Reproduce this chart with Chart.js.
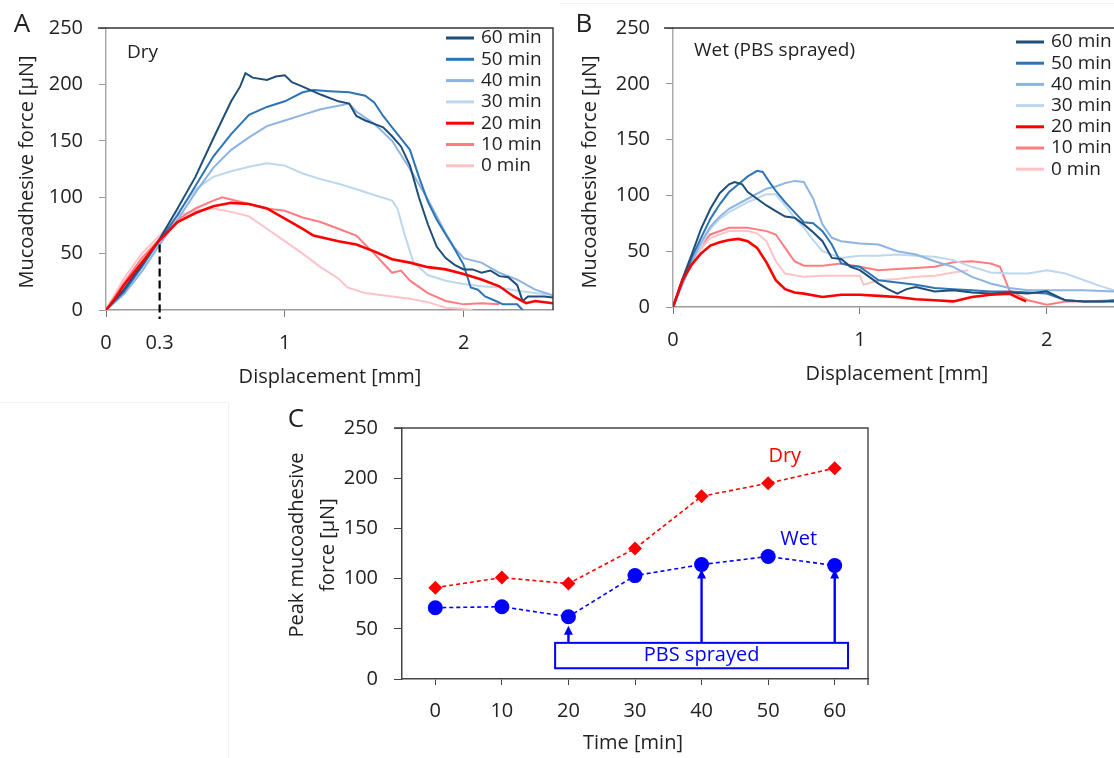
<!DOCTYPE html>
<html>
<head>
<meta charset="utf-8">
<script src="https://cdn.jsdelivr.net/npm/chart.js@4.4.0/dist/chart.umd.min.js"></script>
<style>
  body { margin: 0; background: #fff; width: 1114px; height: 758px; position: relative; overflow: hidden; }
  canvas { position: absolute; }
  #chartA { left: 0; top: 0; }
  #chartB { left: 560px; top: 0; }
  #chartC { left: 228px; top: 400px; }
  .faint { position: absolute; background: #f2f2f2; }
</style>
</head>
<body>
<div class="faint" style="left:0;top:402px;width:228px;height:1px"></div>
<div class="faint" style="left:228px;top:402px;width:1px;height:356px"></div>
<div class="faint" style="left:560px;top:3px;width:554px;height:1px"></div>
<canvas id="chartA" width="560" height="395"></canvas>
<canvas id="chartB" width="554" height="395"></canvas>
<canvas id="chartC" width="660" height="358"></canvas>
<script>
const FONT = "'Open Sans', sans-serif";
const TEXT = '#222';

// legend labels and colours, newest first
const timeLabels = ['60 min', '50 min', '40 min', '30 min', '20 min', '10 min', '0 min'];
const lineColors = ['#1f4e79', '#2e75b6', '#8db4e2', '#bdd7ee', '#ff0000', '#ff7c80', '#ffc2c6'];

// A: dry, [displacement mm, force uN]
const dry60 = [[0,0],[0.1,18],[0.2,40],[0.3,63],[0.4,90],[0.5,118],[0.6,152],[0.7,185],[0.75,198],[0.78,210],[0.82,206],[0.9,204],[0.95,207],[1.0,208],[1.04,202],[1.1,198],[1.2,191],[1.3,185],[1.36,183],[1.4,172],[1.45,168],[1.5,165],[1.55,162],[1.6,154],[1.65,145],[1.7,128],[1.75,100],[1.8,76],[1.85,56],[1.9,46],[1.95,40],[2.0,36],[2.05,36],[2.1,33],[2.15,35],[2.2,30],[2.25,29],[2.3,22],[2.33,8],[2.36,12],[2.45,12],[2.5,11]];
const dry50 = [[0,0],[0.1,16],[0.2,38],[0.3,62],[0.4,84],[0.5,110],[0.6,136],[0.7,156],[0.8,173],[0.9,180],[1.0,185],[1.1,193],[1.16,195],[1.25,194],[1.36,193],[1.45,190],[1.5,184],[1.55,172],[1.6,162],[1.65,152],[1.7,142],[1.75,118],[1.8,96],[1.85,80],[1.9,67],[1.95,54],[2.0,40],[2.04,20],[2.08,18],[2.12,12],[2.18,8],[2.22,5],[2.3,5],[2.33,0]];
const dry40 = [[0,0],[0.1,14],[0.2,34],[0.3,58],[0.4,80],[0.5,104],[0.6,126],[0.7,142],[0.8,153],[0.9,163],[1.0,168],[1.1,173],[1.2,178],[1.3,181],[1.36,183],[1.4,176],[1.5,165],[1.6,150],[1.7,125],[1.8,98],[1.9,68],[1.95,55],[2.0,46],[2.1,42],[2.2,33],[2.3,27],[2.4,18],[2.5,13]];
const dry30 = [[0,0],[0.1,18],[0.2,40],[0.3,60],[0.4,86],[0.5,107],[0.6,118],[0.7,123],[0.8,127],[0.9,130],[1.0,128],[1.1,121],[1.2,116],[1.3,112],[1.4,107],[1.5,102],[1.6,97],[1.63,90],[1.67,67],[1.72,42],[1.8,31],[1.9,26],[2.0,23],[2.1,21],[2.2,20],[2.3,17],[2.4,15],[2.5,13]];
const dry20 = [[0,0],[0.05,10],[0.1,22],[0.2,42],[0.3,62],[0.4,78],[0.5,86],[0.6,92],[0.7,95],[0.8,94],[0.9,90],[1.0,81],[1.1,72],[1.16,66],[1.3,61],[1.4,58],[1.5,52],[1.6,45],[1.7,42],[1.8,38],[1.9,36],[2.0,32],[2.1,27],[2.2,21],[2.28,12],[2.35,6],[2.4,8],[2.5,6]];
const dry10 = [[0,0],[0.1,24],[0.2,46],[0.3,63],[0.4,80],[0.5,90],[0.6,97],[0.65,100],[0.7,98],[0.8,94],[0.9,90],[1.0,88],[1.1,82],[1.2,78],[1.3,72],[1.4,66],[1.5,50],[1.6,33],[1.65,35],[1.7,26],[1.8,15],[1.9,8],[2.0,5],[2.1,6],[2.2,5]];
const dry0 = [[0,0],[0.1,28],[0.2,50],[0.3,66],[0.4,84],[0.5,88],[0.6,90],[0.7,87],[0.8,83],[0.9,72],[1.0,61],[1.1,50],[1.2,38],[1.3,28],[1.35,20],[1.45,15],[1.6,12],[1.7,10],[1.8,7],[1.9,2],[2.0,1],[2.05,0]];

// B: wet (PBS sprayed)
const wet60 = [[0,0],[0.05,25],[0.1,47],[0.15,70],[0.2,88],[0.25,102],[0.3,110],[0.33,112],[0.37,110],[0.4,103],[0.45,97],[0.5,91],[0.55,86],[0.6,81],[0.65,80],[0.7,74],[0.75,67],[0.8,59],[0.85,44],[0.9,43],[0.95,36],[1.0,33],[1.05,27],[1.1,21],[1.15,16],[1.2,12],[1.25,16],[1.3,18],[1.4,14],[1.5,15],[1.6,13],[1.7,12],[1.8,13],[1.9,12],[2.0,14],[2.05,10],[2.1,6],[2.2,5],[2.36,5]];
const wet50 = [[0,0],[0.05,22],[0.1,44],[0.15,62],[0.2,79],[0.25,92],[0.3,103],[0.35,110],[0.4,117],[0.45,122],[0.48,121],[0.52,111],[0.55,104],[0.6,94],[0.65,85],[0.7,76],[0.75,75],[0.8,68],[0.85,56],[0.9,39],[0.95,37],[1.0,36],[1.05,30],[1.1,24],[1.2,22],[1.3,20],[1.4,17],[1.5,16],[1.6,15],[1.7,14],[1.8,14],[1.9,13],[2.0,12],[2.1,6],[2.2,5],[2.3,5],[2.36,6]];
const wet40 = [[0,0],[0.05,20],[0.1,40],[0.15,58],[0.2,72],[0.25,81],[0.3,88],[0.4,97],[0.5,106],[0.55,108],[0.6,111],[0.65,113],[0.7,112],[0.75,97],[0.8,74],[0.85,62],[0.9,59],[1.0,57],[1.1,56],[1.2,50],[1.3,47],[1.4,41],[1.5,36],[1.6,27],[1.7,21],[1.8,17],[1.9,15],[2.0,15],[2.2,15],[2.36,14]];
const wet30 = [[0,0],[0.05,20],[0.1,38],[0.15,55],[0.2,70],[0.25,79],[0.3,85],[0.4,94],[0.5,101],[0.55,101],[0.6,91],[0.65,80],[0.7,71],[0.75,60],[0.8,50],[0.9,44],[1.0,46],[1.1,46],[1.2,47],[1.3,46],[1.4,45],[1.5,42],[1.6,36],[1.7,31],[1.8,30],[1.9,30],[2.0,33],[2.1,30],[2.2,24],[2.3,18],[2.36,15]];
const wet20 = [[0,0],[0.05,24],[0.1,38],[0.15,48],[0.2,55],[0.25,58],[0.3,60],[0.35,61],[0.4,59],[0.45,53],[0.5,40],[0.55,24],[0.6,16],[0.65,13],[0.7,12],[0.8,9],[0.9,11],[1.0,11],[1.1,10],[1.2,9],[1.3,7],[1.4,6],[1.5,5],[1.6,9],[1.7,11],[1.8,12],[1.85,8],[1.89,5]];
const wet10 = [[0,0],[0.05,22],[0.1,40],[0.15,55],[0.2,65],[0.3,71],[0.4,71],[0.5,68],[0.55,65],[0.6,53],[0.65,41],[0.7,37],[0.8,37],[0.9,39],[1.0,36],[1.1,33],[1.2,34],[1.3,35],[1.4,36],[1.5,40],[1.6,41],[1.7,39],[1.75,36],[1.8,15],[1.9,6],[2.0,2],[2.1,5],[2.2,5],[2.36,6]];
const wet0 = [[0,0],[0.05,22],[0.1,40],[0.15,52],[0.2,62],[0.3,68],[0.4,68],[0.45,66],[0.5,59],[0.55,41],[0.6,30],[0.7,27],[0.8,28],[0.9,28],[1.0,28],[1.02,20],[1.1,24],[1.2,25],[1.3,27],[1.4,28],[1.5,31],[1.58,33]];

// C: peak force per time
const timeCats = ['0', '10', '20', '30', '40', '50', '60'];
const peakDry = [91, 101, 95, 130, 182, 195, 210];
const peakWet = [71, 72, 62, 103, 114, 122, 113];

const dispTicksA = [0, 0.3, 1, 2];
const dispTicksB = [0, 1, 2];
const forceTicks = [0, 50, 100, 150, 200, 250];
const markX = 0.3, markTop = 58;       // dashed guide in A
const pbsArrowAt = [2, 4, 6];          // category index of arrows
const pbsArrowTip = [53, 109, 109];
const pbsBox = [1.8, 6.2, 10.7, 36];   // x from, x to, y from, y to

const toXY = arr => arr.map(p => ({ x: p[0], y: p[1] }));

// dark top/right frame around plot area
const framePlugin = {
  id: 'frame',
  afterDraw(chart, args, opts) {
    const { ctx, chartArea: a } = chart;
    ctx.save();
    ctx.strokeStyle = opts.color || '#333';
    ctx.lineWidth = 1.4;
    ctx.beginPath();
    ctx.moveTo(a.left - (opts.extend || 0), a.top);
    ctx.lineTo(a.right, a.top);
    if (opts.right) ctx.lineTo(a.right, a.bottom + (opts.below || 0));
    ctx.stroke();
    ctx.restore();
  }
};

// free text (titles, panel letters)
const notesPlugin = {
  id: 'notes',
  afterDraw(chart, args, opts) {
    const ctx = chart.ctx;
    (opts.items || []).forEach(t => {
      let x = t.x, y = t.y;
      if (t.dataX !== undefined) {
        x = chart.scales.x.getPixelForValue(t.dataX);
        y = chart.scales.y.getPixelForValue(t.dataY);
      }
      ctx.save();
      ctx.font = (t.size || 20) + 'px ' + FONT;
      ctx.fillStyle = t.color || TEXT;
      ctx.textAlign = t.align || 'center';
      ctx.textBaseline = 'middle';
      ctx.translate(x, y);
      if (t.rotate) ctx.rotate(t.rotate);
      ctx.fillText(t.text, 0, 0);
      ctx.restore();
    });
  }
};

// line-sample legend
const lineLegendPlugin = {
  id: 'lineLegend',
  afterDraw(chart, args, opts) {
    if (opts.x === undefined) return;
    const ctx = chart.ctx;
    chart.data.datasets.forEach((ds, i) => {
      const y = opts.y + i * opts.step;
      ctx.save();
      ctx.strokeStyle = ds.borderColor;
      ctx.lineWidth = 3;
      ctx.beginPath();
      ctx.moveTo(opts.x, y);
      ctx.lineTo(opts.x + 28, y);
      ctx.stroke();
      ctx.font = '19px ' + FONT;
      ctx.fillStyle = TEXT;
      ctx.textAlign = 'left';
      ctx.textBaseline = 'middle';
      ctx.fillText(ds.label, opts.x + 35, y);
      ctx.restore();
    });
  }
};

// dashed guide at 0.3 mm
const markPlugin = {
  id: 'mark',
  afterDatasetsDraw(chart) {
    const { ctx, scales } = chart;
    const x = scales.x.getPixelForValue(markX);
    ctx.save();
    ctx.strokeStyle = '#000';
    ctx.lineWidth = 2.2;
    ctx.setLineDash([8, 4]);
    ctx.beginPath();
    ctx.moveTo(x, scales.y.getPixelForValue(markTop));
    ctx.lineTo(x, scales.y.getPixelForValue(0) + 9);
    ctx.stroke();
    ctx.restore();
  }
};

// PBS sprayed box and arrows
const pbsPlugin = {
  id: 'pbs',
  afterDatasetsDraw(chart) {
    const { ctx, scales } = chart;
    const xs = scales.x, ys = scales.y;
    const l = xs.getPixelForValue(pbsBox[0]), r = xs.getPixelForValue(pbsBox[1]);
    const b = ys.getPixelForValue(pbsBox[2]), t = ys.getPixelForValue(pbsBox[3]);
    ctx.save();
    ctx.strokeStyle = '#0000ff';
    ctx.fillStyle = '#0000ff';
    ctx.lineWidth = 2;
    ctx.strokeRect(l, t, r - l, b - t);
    pbsArrowAt.forEach((c, i) => {
      const x = xs.getPixelForValue(c);
      const tip = ys.getPixelForValue(pbsArrowTip[i]);
      ctx.lineWidth = 2.4;
      ctx.beginPath();
      ctx.moveTo(x, t);
      ctx.lineTo(x, tip + 7);
      ctx.stroke();
      ctx.beginPath();
      ctx.moveTo(x, tip);
      ctx.lineTo(x - 4.5, tip + 9);
      ctx.lineTo(x + 4.5, tip + 9);
      ctx.closePath();
      ctx.fill();
    });
    ctx.font = '20px ' + FONT;
    ctx.textAlign = 'center';
    ctx.textBaseline = 'middle';
    ctx.fillText('PBS sprayed', (l + r) / 2, (t + b) / 2);
    ctx.restore();
  }
};

function curveSets(curves) {
  return curves.map((c, i) => ({
    label: timeLabels[i],
    data: toXY(c),
    borderColor: lineColors[i],
    borderWidth: i === 4 ? 2.6 : 2,
    pointRadius: 0,
    tension: 0,
    fill: false,
    order: i === 4 ? -1 : i
  }));
}

function forceAxis(width) {
  return {
    min: 0, max: 250,
    afterBuildTicks: s => { s.ticks = forceTicks.map(v => ({ value: v })); },
    afterFit: s => { s.width = width; },
    ticks: { font: { family: FONT, size: 20 }, color: TEXT, padding: 16 },
    grid: { drawOnChartArea: false, tickLength: 7, color: '#999' },
    border: { color: '#aaa', width: 1.5 }
  };
}

function dispAxis(ticks, max, height) {
  return {
    type: 'linear', min: 0, max: max,
    afterBuildTicks: s => { s.ticks = ticks.map(v => ({ value: v })); },
    afterFit: s => { s.height = height; },
    ticks: { callback: v => String(v), font: { family: FONT, size: 20 }, color: TEXT, padding: 14, maxRotation: 0, autoSkip: false },
    grid: { drawOnChartArea: false, tickLength: 7, color: c => (c.tick && c.tick.value === markX) ? 'rgba(0,0,0,0)' : '#777' },
    border: { color: '#999', width: 1.5 }
  };
}

new Chart(document.getElementById('chartA'), {
  type: 'line',
  data: { datasets: curveSets([dry60, dry50, dry40, dry30, dry20, dry10, dry0]) },
  options: {
    responsive: false, animation: false,
    layout: { padding: { top: 22, right: 7, left: 0, bottom: 0 } },
    plugins: {
      legend: { display: false }, tooltip: { enabled: false },
      frame: { color: '#333', extend: 8, right: true },
      lineLegend: { x: 446, y: 38, step: 21.3 },
      notes: { items: [
        { text: 'A', x: 22, y: 25, size: 26 },
        { text: 'Mucoadhesive force [µN]', x: 27, y: 172, rotate: -Math.PI / 2 },
        { text: 'Displacement [mm]', x: 330, y: 377 },
        { text: 'Dry', x: 127, y: 53, align: 'left', size: 19 }
      ] }
    },
    scales: { x: dispAxis(dispTicksA, 2.5, 85), y: forceAxis(106) }
  },
  plugins: [framePlugin, notesPlugin, lineLegendPlugin, markPlugin]
});

new Chart(document.getElementById('chartB'), {
  type: 'line',
  data: { datasets: curveSets([wet60, wet50, wet40, wet30, wet20, wet10, wet0]) },
  options: {
    responsive: false, animation: false,
    layout: { padding: { top: 22, right: 0, left: 0, bottom: 0 } },
    plugins: {
      legend: { display: false }, tooltip: { enabled: false },
      frame: { color: '#333', extend: 9, right: false },
      lineLegend: { x: 456, y: 42, step: 21.2 },
      notes: { items: [
        { text: 'B', x: 24, y: 25, size: 26 },
        { text: 'Mucoadhesive force [µN]', x: 30, y: 172, rotate: -Math.PI / 2 },
        { text: 'Displacement [mm]', x: 337, y: 374 },
        { text: 'Wet (PBS sprayed)', x: 134, y: 51, align: 'left', size: 19 }
      ] }
    },
    scales: { x: dispAxis(dispTicksB, 2.36, 88), y: forceAxis(113) }
  },
  plugins: [framePlugin, notesPlugin, lineLegendPlugin]
});

const axisC = forceAxis(174);
axisC.grid = { drawOnChartArea: false, tickLength: 8, color: '#444' };
axisC.border = { color: '#444', width: 1.5 };

new Chart(document.getElementById('chartC'), {
  type: 'line',
  data: {
    labels: timeCats,
    datasets: [
      { label: 'Dry', data: peakDry, borderColor: '#ff0000', backgroundColor: '#ff0000', borderDash: [4, 3], borderWidth: 1.6, pointStyle: 'rectRot', pointRadius: 7, pointBorderWidth: 0 },
      { label: 'Wet', data: peakWet, borderColor: '#0000ff', backgroundColor: '#0000ff', borderDash: [4, 3], borderWidth: 1.6, pointStyle: 'circle', pointRadius: 7.5, pointBorderWidth: 0 }
    ]
  },
  options: {
    responsive: false, animation: false,
    layout: { padding: { top: 22, right: 20, left: 0, bottom: 0 } },
    plugins: {
      legend: { display: false }, tooltip: { enabled: false },
      frame: { color: '#444', extend: 8, right: true, below: 6 },
      notes: { items: [
        { text: 'C', x: 68, y: 20, size: 26 },
        { text: 'Peak mucoadhesive', x: 69, y: 145, rotate: -Math.PI / 2 },
        { text: 'force [µN]', x: 100, y: 145, rotate: -Math.PI / 2 },
        { text: 'Time [min]', x: 405, y: 343 },
        { text: 'Dry', dataX: 5.25, dataY: 222, color: '#ff0000' },
        { text: 'Wet', dataX: 5.46, dataY: 139, color: '#0000ff' }
      ] }
    },
    scales: {
      x: {
        offset: true,
        afterFit: s => { s.height = 79; },
        ticks: { font: { family: FONT, size: 20 }, color: TEXT, padding: 14 },
        grid: { offset: false, drawOnChartArea: false, tickLength: 6, color: '#444' },
        border: { color: '#444', width: 1.5 }
      },
      y: axisC
    }
  },
  plugins: [framePlugin, notesPlugin, pbsPlugin]
});
</script>
</body>
</html>
